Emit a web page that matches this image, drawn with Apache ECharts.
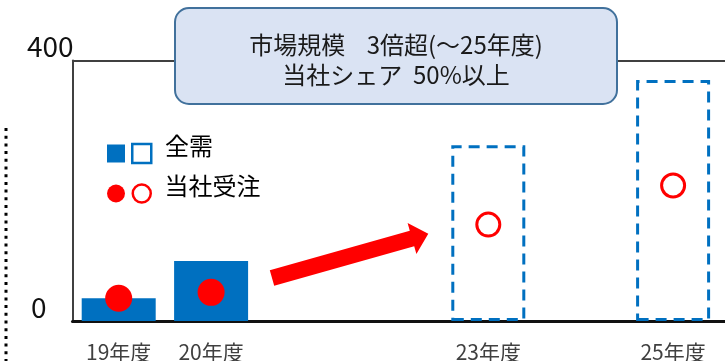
<!DOCTYPE html>
<html>
<head>
<meta charset="utf-8">
<script src="https://cdn.jsdelivr.net/npm/echarts@6/dist/echarts.min.js"></script>
<style>
  html, body { margin: 0; padding: 0; background: #ffffff; }
  #chart { width: 725px; height: 361px; }
</style>
</head>
<body>
<div id="chart"></div>
<script>
// Fiscal years on the category axis (only years with data get a label)
const years = ['19年度', '20年度', '21年度', '22年度', '23年度', '24年度', '25年度', '26年度'];
const labeledYears = ['19年度', '20年度', '23年度', '25年度'];

// Total market demand: actual (solid) and outlook (dashed)
const marketActual   = [35, 92, '-', '-', '-', '-', '-', '-'];
const marketForecast = ['-', '-', '-', '-', 270, '-', 370, '-'];

// Company orders: actual (filled) and outlook (open)
const ordersActual   = [35, 44, '-', '-', '-', '-', '-', '-'];
const ordersForecast = ['-', '-', '-', '-', 148, '-', 208, '-'];

// Value axis ticks
const yTicks = [0, 400];

const FONT = "'Noto Sans CJK JP', 'Noto Sans', sans-serif";
const BLUE = '#0070C0';
const RED = '#FF0000';

const chart = echarts.init(document.getElementById('chart'), null, { renderer: 'canvas' });

chart.setOption({
  animation: false,
  backgroundColor: '#ffffff',
  textStyle: { fontFamily: FONT },
  grid: {
    left: 72.5,
    top: 60.5,
    width: 92.4 * years.length,
    height: 260.5,
    outerBoundsMode: 'none'
  },
  legend: {
    orient: 'vertical',
    left: 102,
    top: 128.5,
    itemWidth: 18,
    itemHeight: 18,
    itemGap: 0,
    selectedMode: false,
    data: [
      { name: '全需', icon: 'rect' },
      { name: '当社受注', icon: 'circle' }
    ],
    formatter: function (name) {
      return name === '全需'
        ? '{g|}{sq|}{t|' + name + '}'
        : '{g2|}{ci|}{t|' + name + '}';
    },
    textStyle: {
      fontFamily: FONT,
      color: '#000000',
      fontSize: 24,
      rich: {
        g: { width: 3.5, height: 1 },
        g2: { width: 4, height: 1 },
        sq: { width: 16.5, height: 16.5, borderColor: BLUE, borderWidth: 2.5, backgroundColor: '#ffffff' },
        ci: { width: 15.5, height: 15.5, borderColor: RED, borderWidth: 2.5, borderRadius: 8, backgroundColor: '#ffffff' },
        t: { fontFamily: FONT, fontSize: 24, lineHeight: 24, color: '#000000', padding: [0, 0, 16, 15] }
      }
    }
  },
  xAxis: {
    type: 'category',
    data: years,
    axisLine: { show: true, lineStyle: { color: '#111111', width: 3 } },
    axisTick: { show: false },
    axisLabel: {
      interval: function (index, value) { return labeledYears.indexOf(value) >= 0; },
      margin: 21,
      fontFamily: FONT,
      fontSize: 21,
      color: '#404040'
    },
    splitLine: { show: false }
  },
  yAxis: {
    type: 'value',
    min: yTicks[0],
    max: yTicks[yTicks.length - 1],
    interval: yTicks[1] - yTicks[0],
    axisLine: { show: true, lineStyle: { color: '#404040', width: 2 } },
    axisTick: { show: false },
    splitLine: { show: true, lineStyle: { color: '#404040', width: 2 } },
    axisLabel: {
      margin: -1,
      align: 'right',
      verticalAlign: 'bottom',
      formatter: function (v) { return v === 0 ? '{b|' + v + '}' : '{a|' + v + '}'; },
      rich: {
        a: { fontFamily: FONT, fontSize: 28, lineHeight: 28, color: '#111111' },
        b: { fontFamily: FONT, fontSize: 28, lineHeight: 28, color: '#111111', padding: [0, 27, 0, 0] }
      }
    }
  },
  series: [
    {
      name: '全需',
      type: 'bar',
      data: marketActual,
      barWidth: 74,
      barGap: '-100%',
      itemStyle: { color: BLUE }
    },
    {
      name: '全需',
      type: 'bar',
      data: marketForecast,
      barWidth: 74,
      barGap: '-100%',
      itemStyle: {
        color: 'rgba(255,255,255,0)',
        borderColor: BLUE,
        borderWidth: 3,
        borderType: [11, 7]
      }
    },
    {
      name: '当社受注',
      type: 'scatter',
      data: ordersActual,
      symbol: 'circle',
      symbolSize: 27,
      itemStyle: { color: RED, opacity: 1 }
    },
    {
      name: '当社受注',
      type: 'scatter',
      data: ordersForecast,
      symbol: 'circle',
      symbolSize: 23,
      itemStyle: { color: '#ffffff', borderColor: RED, borderWidth: 3, opacity: 1 }
    }
  ],
  graphic: [
    {
      // headline callout
      type: 'rect',
      z: 100,
      shape: { x: 175, y: 8, width: 442, height: 96, r: 14 },
      style: { fill: '#DAE3F3', stroke: '#41719C', lineWidth: 2 }
    },
    {
      type: 'text',
      z: 101,
      x: 396,
      y: 60,
      style: {
        text: '市場規模    3倍超(～25年度)\n当社シェア  50%以上',
        align: 'center',
        verticalAlign: 'middle',
        fontFamily: FONT,
        fontSize: 24,
        lineHeight: 30,
        fill: '#1a1a1a'
      }
    },
    {
      // growth arrow
      type: 'polygon',
      z: 100,
      shape: {
        points: [
          [269.8, 270.3], [409.8, 230.8], [407.6, 223.1], [428.3, 233.8],
          [416.4, 253.9], [414.2, 246.2], [274.2, 285.7]
        ]
      },
      style: { fill: RED }
    },
    {
      // dotted separator on the left edge
      type: 'line',
      z: 100,
      shape: { x1: 6, y1: 128, x2: 6, y2: 361 },
      style: { stroke: '#000000', lineWidth: 3, lineDash: [3, 4.7] }
    }
  ]
});
</script>
</body>
</html>
